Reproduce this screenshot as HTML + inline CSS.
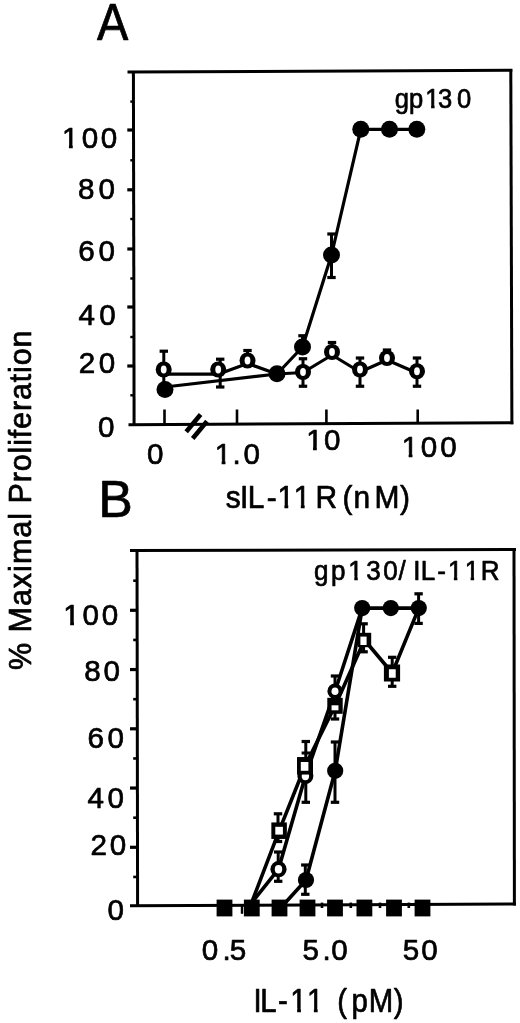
<!DOCTYPE html>
<html><head><meta charset="utf-8"><title>Figure</title>
<style>
html,body{margin:0;padding:0;background:#fff;}
svg{display:block;}
text{font-family:"Liberation Sans",sans-serif;fill:#000;stroke:#000;stroke-width:0.7px;stroke-linejoin:round;}
</style></head><body>
<svg width="520" height="1023" viewBox="0 0 520 1023" stroke="#000" fill="none">
<rect x="0" y="0" width="520" height="1023" fill="#fff" stroke="none"/>
<text transform="scale(0.9,1)" x="107.87" y="39.70" font-size="52.2">A</text>
<text x="98.22" y="517.20" font-size="51.8">B</text>
<g transform="rotate(-90)">
<text x="-669.89 -654.64 -632.50 -606.10 -588.13 -571.88 -564.11 -537.70 -519.74 -504.49 -503.50 -482.31 -471.30 -453.48 -445.85 -438.22 -428.89 -411.08 -400.07 -382.25 -372.93 -365.30 -347.48" y="30.90" font-size="30.5">% Maximal Proliferation</text>
</g>
<line x1="127.5" y1="72.1" x2="512.3" y2="70.2" stroke-width="3" stroke-linecap="butt"/>
<line x1="133.4" y1="71" x2="134.1" y2="426" stroke-width="3" stroke-linecap="butt"/>
<line x1="128.5" y1="424.7" x2="513.3" y2="422.8" stroke-width="3" stroke-linecap="butt"/>
<line x1="510.8" y1="69" x2="511.9" y2="424.3" stroke-width="3" stroke-linecap="butt"/>
<line x1="127.3" y1="130" x2="134" y2="130" stroke-width="3.2" stroke-linecap="butt"/>
<line x1="127.3" y1="189.8" x2="134" y2="189.8" stroke-width="3.2" stroke-linecap="butt"/>
<line x1="127.3" y1="249" x2="134" y2="249" stroke-width="3.2" stroke-linecap="butt"/>
<line x1="127.3" y1="307" x2="134" y2="307" stroke-width="3.2" stroke-linecap="butt"/>
<line x1="127.3" y1="366" x2="134" y2="366" stroke-width="3.2" stroke-linecap="butt"/>
<line x1="130.3" y1="101.6" x2="134" y2="101.6" stroke-width="2.4" stroke-linecap="butt"/>
<line x1="130.3" y1="160.3" x2="134" y2="160.3" stroke-width="2.4" stroke-linecap="butt"/>
<line x1="130.3" y1="219" x2="134" y2="219" stroke-width="2.4" stroke-linecap="butt"/>
<line x1="130.3" y1="278.5" x2="134" y2="278.5" stroke-width="2.4" stroke-linecap="butt"/>
<line x1="130.3" y1="337" x2="134" y2="337" stroke-width="2.4" stroke-linecap="butt"/>
<line x1="130.3" y1="395.3" x2="134" y2="395.3" stroke-width="2.4" stroke-linecap="butt"/>
<line x1="164.5" y1="409.5" x2="164.5" y2="424" stroke-width="2.6" stroke-linecap="butt"/>
<line x1="237" y1="409.5" x2="237" y2="424" stroke-width="2.6" stroke-linecap="butt"/>
<line x1="326.4" y1="409.5" x2="326.4" y2="424" stroke-width="2.6" stroke-linecap="butt"/>
<line x1="417.7" y1="409.5" x2="417.7" y2="424" stroke-width="2.6" stroke-linecap="butt"/>
<line x1="186.2" y1="431.7" x2="200.6" y2="414.5" stroke-width="4.6" stroke-linecap="butt"/>
<line x1="192.7" y1="438.4" x2="207" y2="421.3" stroke-width="4.6" stroke-linecap="butt"/>
<text x="62.10 81.67 100.67" y="148.00" font-size="29.6">100</text>
<rect x="63.20" y="144.34" width="5.74" height="5.16" fill="#fff" stroke="none"/>
<rect x="72.76" y="144.34" width="5.51" height="5.16" fill="#fff" stroke="none"/>
<text x="77.97 98.47" y="199.20" font-size="29.6">80</text>
<text x="78.17 98.49" y="261.00" font-size="29.6">60</text>
<text x="78.49 99.27" y="325.00" font-size="29.6">40</text>
<text x="78.77 98.64" y="373.20" font-size="29.6">20</text>
<text x="98.02" y="437.00" font-size="29.6">0</text>
<text x="147.07" y="463.50" font-size="29.6">0</text>
<text x="214.80 232.39 243.39" y="463.50" font-size="29.6">1.0</text>
<rect x="215.90" y="459.84" width="5.74" height="5.16" fill="#fff" stroke="none"/>
<rect x="225.46" y="459.84" width="5.51" height="5.16" fill="#fff" stroke="none"/>
<text x="306.15 324.02" y="450.30" font-size="29.6">10</text>
<rect x="307.25" y="446.64" width="5.74" height="5.16" fill="#fff" stroke="none"/>
<rect x="316.81" y="446.64" width="5.51" height="5.16" fill="#fff" stroke="none"/>
<text x="401.80 420.72 440.17" y="456.80" font-size="29.6">100</text>
<rect x="402.90" y="453.14" width="5.74" height="5.16" fill="#fff" stroke="none"/>
<rect x="412.46" y="453.14" width="5.51" height="5.16" fill="#fff" stroke="none"/>
<text transform="scale(0.95,1)" x="237.62 252.73 260.89 280.76 292.08 309.34 326.86 332.17 354.92 360.61 372.22 394.20 421.17" y="508.30" font-size="31.5">sIL-11 R (nM)</text>
<rect x="278.61" y="504.50" width="5.80" height="5.30" fill="#fff" stroke="none"/>
<rect x="288.25" y="504.50" width="5.56" height="5.30" fill="#fff" stroke="none"/>
<rect x="295.01" y="504.50" width="5.80" height="5.30" fill="#fff" stroke="none"/>
<rect x="304.65" y="504.50" width="5.56" height="5.30" fill="#fff" stroke="none"/>
<text transform="scale(0.92,1)" x="429.16 444.67 462.25 476.10 496.78" y="108.20" font-size="27.8">gp130</text>
<rect x="426.07" y="104.67" width="5.03" height="5.03" fill="#fff" stroke="none"/>
<rect x="434.57" y="104.67" width="4.83" height="5.03" fill="#fff" stroke="none"/>
<polyline points="165,387 277,374 302.5,347 331.5,255 360.8,129.3 389.5,129.3 416.8,129.3" stroke-width="3.2" fill="none" stroke-linejoin="round"/>
<polyline points="163.7,374.2 218.2,374.2 247.5,363.5 277,374 303,372.5 332,355 360,372 387,360 417,373" stroke-width="3.2" fill="none" stroke-linejoin="round"/>
<line x1="163.8" y1="351.2" x2="163.8" y2="388" stroke-width="3.0" stroke-linecap="butt"/>
<line x1="159.60000000000002" y1="351.2" x2="168.0" y2="351.2" stroke-width="3.2" stroke-linecap="butt"/>
<line x1="159.60000000000002" y1="388" x2="168.0" y2="388" stroke-width="3.2" stroke-linecap="butt"/>
<line x1="220.2" y1="359.2" x2="220.2" y2="387" stroke-width="3.0" stroke-linecap="butt"/>
<line x1="216.0" y1="359.2" x2="224.39999999999998" y2="359.2" stroke-width="3.2" stroke-linecap="butt"/>
<line x1="216.0" y1="387" x2="224.39999999999998" y2="387" stroke-width="3.2" stroke-linecap="butt"/>
<line x1="247.5" y1="350.5" x2="247.5" y2="358" stroke-width="3.0" stroke-linecap="butt"/>
<line x1="243.3" y1="350.5" x2="251.7" y2="350.5" stroke-width="3.2" stroke-linecap="butt"/>
<line x1="302.5" y1="335.75" x2="302.5" y2="346" stroke-width="3.0" stroke-linecap="butt"/>
<line x1="298.3" y1="335.75" x2="306.7" y2="335.75" stroke-width="3.2" stroke-linecap="butt"/>
<line x1="303" y1="358.75" x2="303" y2="386.25" stroke-width="3.0" stroke-linecap="butt"/>
<line x1="298.8" y1="358.75" x2="307.2" y2="358.75" stroke-width="3.2" stroke-linecap="butt"/>
<line x1="298.8" y1="386.25" x2="307.2" y2="386.25" stroke-width="3.2" stroke-linecap="butt"/>
<line x1="332" y1="342.5" x2="332" y2="350" stroke-width="3.0" stroke-linecap="butt"/>
<line x1="327.8" y1="342.5" x2="336.2" y2="342.5" stroke-width="3.2" stroke-linecap="butt"/>
<line x1="360" y1="358" x2="360" y2="386.25" stroke-width="3.0" stroke-linecap="butt"/>
<line x1="355.8" y1="358" x2="364.2" y2="358" stroke-width="3.2" stroke-linecap="butt"/>
<line x1="355.8" y1="386.25" x2="364.2" y2="386.25" stroke-width="3.2" stroke-linecap="butt"/>
<line x1="387" y1="350" x2="387" y2="356" stroke-width="3.0" stroke-linecap="butt"/>
<line x1="382.8" y1="350" x2="391.2" y2="350" stroke-width="3.2" stroke-linecap="butt"/>
<line x1="417" y1="358" x2="417" y2="386.25" stroke-width="3.0" stroke-linecap="butt"/>
<line x1="412.8" y1="358" x2="421.2" y2="358" stroke-width="3.2" stroke-linecap="butt"/>
<line x1="412.8" y1="386.25" x2="421.2" y2="386.25" stroke-width="3.2" stroke-linecap="butt"/>
<line x1="331.5" y1="234" x2="331.5" y2="277.5" stroke-width="3.0" stroke-linecap="butt"/>
<line x1="327.3" y1="234" x2="335.7" y2="234" stroke-width="3.2" stroke-linecap="butt"/>
<line x1="327.3" y1="277.5" x2="335.7" y2="277.5" stroke-width="3.2" stroke-linecap="butt"/>
<circle cx="163.7" cy="369.5" r="8.0" fill="#000" stroke="none"/>
<ellipse cx="163.7" cy="369.5" rx="2.9" ry="3.9" fill="#fff" stroke="none"/>
<circle cx="218.2" cy="369.5" r="8.0" fill="#000" stroke="none"/>
<ellipse cx="218.2" cy="369.5" rx="2.9" ry="3.9" fill="#fff" stroke="none"/>
<circle cx="247.5" cy="360.5" r="8.0" fill="#000" stroke="none"/>
<ellipse cx="247.5" cy="360.5" rx="2.9" ry="3.9" fill="#fff" stroke="none"/>
<circle cx="303" cy="372" r="8.0" fill="#000" stroke="none"/>
<ellipse cx="303" cy="372" rx="2.9" ry="3.9" fill="#fff" stroke="none"/>
<circle cx="332" cy="352" r="8.0" fill="#000" stroke="none"/>
<ellipse cx="332" cy="352" rx="2.9" ry="3.9" fill="#fff" stroke="none"/>
<circle cx="360" cy="369.5" r="8.0" fill="#000" stroke="none"/>
<ellipse cx="360" cy="369.5" rx="2.9" ry="3.9" fill="#fff" stroke="none"/>
<circle cx="387" cy="358" r="8.0" fill="#000" stroke="none"/>
<ellipse cx="387" cy="358" rx="2.9" ry="3.9" fill="#fff" stroke="none"/>
<circle cx="417" cy="371.25" r="8.0" fill="#000" stroke="none"/>
<ellipse cx="417" cy="371.25" rx="2.9" ry="3.9" fill="#fff" stroke="none"/>
<circle cx="165" cy="389.5" r="8.5" fill="#000" stroke="none"/>
<circle cx="277" cy="373.75" r="8.5" fill="#000" stroke="none"/>
<circle cx="302.5" cy="347" r="8.5" fill="#000" stroke="none"/>
<circle cx="331.5" cy="255" r="8.5" fill="#000" stroke="none"/>
<circle cx="360.8" cy="129.3" r="8.5" fill="#000" stroke="none"/>
<circle cx="389.5" cy="129.3" r="8.5" fill="#000" stroke="none"/>
<circle cx="416.8" cy="129.3" r="8.5" fill="#000" stroke="none"/>
<line x1="130" y1="550.5" x2="516" y2="549.4" stroke-width="3" stroke-linecap="butt"/>
<line x1="137" y1="549" x2="137.6" y2="907" stroke-width="3" stroke-linecap="butt"/>
<line x1="130" y1="905.8" x2="516" y2="904" stroke-width="3" stroke-linecap="butt"/>
<line x1="514" y1="548" x2="514.4" y2="905.5" stroke-width="3" stroke-linecap="butt"/>
<line x1="130" y1="610.3" x2="137.5" y2="610.3" stroke-width="3.2" stroke-linecap="butt"/>
<line x1="130" y1="669.55" x2="137.5" y2="669.55" stroke-width="3.2" stroke-linecap="butt"/>
<line x1="130" y1="728.8" x2="137.5" y2="728.8" stroke-width="3.2" stroke-linecap="butt"/>
<line x1="130" y1="788.05" x2="137.5" y2="788.05" stroke-width="3.2" stroke-linecap="butt"/>
<line x1="130" y1="847.3" x2="137.5" y2="847.3" stroke-width="3.2" stroke-linecap="butt"/>
<line x1="133.2" y1="580.7" x2="137.5" y2="580.7" stroke-width="2.6" stroke-linecap="butt"/>
<line x1="133.2" y1="639.95" x2="137.5" y2="639.95" stroke-width="2.6" stroke-linecap="butt"/>
<line x1="133.2" y1="699.2" x2="137.5" y2="699.2" stroke-width="2.6" stroke-linecap="butt"/>
<line x1="133.2" y1="758.45" x2="137.5" y2="758.45" stroke-width="2.6" stroke-linecap="butt"/>
<line x1="133.2" y1="817.7" x2="137.5" y2="817.7" stroke-width="2.6" stroke-linecap="butt"/>
<line x1="133.2" y1="876.95" x2="137.5" y2="876.95" stroke-width="2.6" stroke-linecap="butt"/>
<text x="63.30 82.52 101.87" y="625.00" font-size="29.6">100</text>
<rect x="64.40" y="621.34" width="5.74" height="5.16" fill="#fff" stroke="none"/>
<rect x="73.96" y="621.34" width="5.51" height="5.16" fill="#fff" stroke="none"/>
<text x="84.27 103.39" y="681.00" font-size="29.6">80</text>
<text x="87.42 107.42" y="748.00" font-size="29.6">60</text>
<text x="87.61 107.62" y="807.70" font-size="29.6">40</text>
<text x="90.62 109.87" y="855.20" font-size="29.6">20</text>
<text x="107.42" y="920.00" font-size="29.6">0</text>
<text x="201.77 222.39 229.67" y="959.50" font-size="29.6">0.5</text>
<text x="302.55 322.39 331.14" y="959.50" font-size="29.6">5.0</text>
<text x="402.80 421.27" y="959.50" font-size="29.6">50</text>
<text transform="scale(0.9,1)" x="281.75 289.25 308.79 322.61 341.23 359.36 374.71 390.57 409.64 437.49" y="1011.80" font-size="32.6">IL-11 (pM)</text>
<rect x="291.44" y="1007.91" width="5.69" height="5.39" fill="#fff" stroke="none"/>
<rect x="300.92" y="1007.91" width="5.46" height="5.39" fill="#fff" stroke="none"/>
<rect x="308.19" y="1007.91" width="5.69" height="5.39" fill="#fff" stroke="none"/>
<rect x="317.67" y="1007.91" width="5.46" height="5.39" fill="#fff" stroke="none"/>
<text transform="scale(0.95,1)" x="330.58 348.39 366.66 385.62 403.30 419.46 427.07 435.04 442.92 460.23 471.50 489.13 506.09" y="579.60" font-size="27.4">gp130/ IL-11R</text>
<rect x="349.16" y="576.10" width="5.11" height="5.00" fill="#fff" stroke="none"/>
<rect x="357.77" y="576.10" width="4.91" height="5.00" fill="#fff" stroke="none"/>
<rect x="448.76" y="576.10" width="5.11" height="5.00" fill="#fff" stroke="none"/>
<rect x="457.37" y="576.10" width="4.91" height="5.00" fill="#fff" stroke="none"/>
<rect x="465.51" y="576.10" width="5.11" height="5.00" fill="#fff" stroke="none"/>
<rect x="474.12" y="576.10" width="4.91" height="5.00" fill="#fff" stroke="none"/>
<polyline points="286,902 306,880 335.2,770.8 362.2,608.1 390.8,608.1 418.8,608.1" stroke-width="3.6" fill="none" stroke-linejoin="round"/>
<polyline points="251.5,903 278.5,869.2 305.4,776 335,691.5 362.2,608.1" stroke-width="3.6" fill="none" stroke-linejoin="round"/>
<polyline points="251.5,903 279.2,830.7 305,766 335,706 364.5,640 392.2,673 418.8,608.1" stroke-width="3.6" fill="none" stroke-linejoin="round"/>
<line x1="418.6" y1="593.8" x2="418.6" y2="623.4" stroke-width="3.0" stroke-linecap="butt"/>
<line x1="414.40000000000003" y1="593.8" x2="422.8" y2="593.8" stroke-width="3.2" stroke-linecap="butt"/>
<line x1="414.40000000000003" y1="623.4" x2="422.8" y2="623.4" stroke-width="3.2" stroke-linecap="butt"/>
<line x1="363.6" y1="623.8" x2="363.6" y2="651.8" stroke-width="3.0" stroke-linecap="butt"/>
<line x1="359.40000000000003" y1="623.8" x2="367.8" y2="623.8" stroke-width="3.2" stroke-linecap="butt"/>
<line x1="359.40000000000003" y1="651.8" x2="367.8" y2="651.8" stroke-width="3.2" stroke-linecap="butt"/>
<line x1="392.2" y1="657.3" x2="392.2" y2="686.3" stroke-width="3.0" stroke-linecap="butt"/>
<line x1="388.0" y1="657.3" x2="396.4" y2="657.3" stroke-width="3.2" stroke-linecap="butt"/>
<line x1="388.0" y1="686.3" x2="396.4" y2="686.3" stroke-width="3.2" stroke-linecap="butt"/>
<line x1="335" y1="676" x2="335" y2="719" stroke-width="3.0" stroke-linecap="butt"/>
<line x1="330.8" y1="676" x2="339.2" y2="676" stroke-width="3.2" stroke-linecap="butt"/>
<line x1="330.8" y1="719" x2="339.2" y2="719" stroke-width="3.2" stroke-linecap="butt"/>
<line x1="330.8" y1="703" x2="339.2" y2="703" stroke-width="3" stroke-linecap="butt"/>
<line x1="305.8" y1="741.5" x2="305.8" y2="802.3" stroke-width="3.0" stroke-linecap="butt"/>
<line x1="301.6" y1="741.5" x2="310.0" y2="741.5" stroke-width="3.2" stroke-linecap="butt"/>
<line x1="301.6" y1="802.3" x2="310.0" y2="802.3" stroke-width="3.2" stroke-linecap="butt"/>
<line x1="301.6" y1="753" x2="310" y2="753" stroke-width="3" stroke-linecap="butt"/>
<line x1="335" y1="742" x2="335" y2="802.3" stroke-width="3.0" stroke-linecap="butt"/>
<line x1="330.8" y1="742" x2="339.2" y2="742" stroke-width="3.2" stroke-linecap="butt"/>
<line x1="330.8" y1="802.3" x2="339.2" y2="802.3" stroke-width="3.2" stroke-linecap="butt"/>
<line x1="278" y1="813.8" x2="278" y2="841.5" stroke-width="3.0" stroke-linecap="butt"/>
<line x1="273.8" y1="813.8" x2="282.2" y2="813.8" stroke-width="3.2" stroke-linecap="butt"/>
<line x1="273.8" y1="841.5" x2="282.2" y2="841.5" stroke-width="3.2" stroke-linecap="butt"/>
<line x1="278.2" y1="852" x2="278.2" y2="881.3" stroke-width="3.0" stroke-linecap="butt"/>
<line x1="274.0" y1="852" x2="282.4" y2="852" stroke-width="3.2" stroke-linecap="butt"/>
<line x1="274.0" y1="881.3" x2="282.4" y2="881.3" stroke-width="3.2" stroke-linecap="butt"/>
<line x1="305.3" y1="865" x2="305.3" y2="894.3" stroke-width="3.0" stroke-linecap="butt"/>
<line x1="301.1" y1="865" x2="309.5" y2="865" stroke-width="3.2" stroke-linecap="butt"/>
<line x1="301.1" y1="894.3" x2="309.5" y2="894.3" stroke-width="3.2" stroke-linecap="butt"/>
<circle cx="278.5" cy="869.2" r="8.1" fill="#000" stroke="none"/>
<ellipse cx="278.5" cy="869.2" rx="3.7" ry="4.2" fill="#fff" stroke="none"/>
<circle cx="305.4" cy="776" r="8.0" fill="#000" stroke="none"/>
<ellipse cx="305.4" cy="776" rx="3.7" ry="4.2" fill="#fff" stroke="none"/>
<circle cx="335" cy="691.2" r="7.6" fill="#000" stroke="none"/>
<ellipse cx="335" cy="691.2" rx="3.5" ry="3.8" fill="#fff" stroke="none"/>
<rect x="271.35" y="822.45" width="15.5" height="16.5" fill="#000" stroke="none"/>
<rect x="275.30" y="826.80" width="7.6" height="7.8" fill="#fff" stroke="none"/>
<rect x="297.00" y="757.05" width="16" height="17.5" fill="#000" stroke="none"/>
<rect x="300.80" y="762.00" width="7.6" height="8.8" fill="#fff" stroke="none"/>
<rect x="327.30" y="697.80" width="15.4" height="16" fill="#000" stroke="none"/>
<rect x="331.55" y="705.30" width="6.9" height="5" fill="#fff" stroke="none"/>
<rect x="357.80" y="632.80" width="13.4" height="14.4" fill="#000" stroke="none"/>
<rect x="360.40" y="636.60" width="6.2" height="8.4" fill="#fff" stroke="none"/>
<rect x="383.90" y="664.50" width="16.2" height="17" fill="#000" stroke="none"/>
<rect x="388.90" y="669.25" width="6.8" height="8.5" fill="#fff" stroke="none"/>
<circle cx="306" cy="880" r="8.1" fill="#000" stroke="none"/>
<circle cx="335.2" cy="770.8" r="8.1" fill="#000" stroke="none"/>
<circle cx="362.2" cy="608.1" r="8.1" fill="#000" stroke="none"/>
<circle cx="390.8" cy="608.1" r="8.1" fill="#000" stroke="none"/>
<circle cx="418.8" cy="608.1" r="8.1" fill="#000" stroke="none"/>
<rect x="216.6" y="899.6" width="15.8" height="16.8" fill="#000" stroke="none"/>
<rect x="243.9" y="899.6" width="15.8" height="16.8" fill="#000" stroke="none"/>
<rect x="271.6" y="899.6" width="15.8" height="16.8" fill="#000" stroke="none"/>
<rect x="299.6" y="899.6" width="15.8" height="16.8" fill="#000" stroke="none"/>
<rect x="327.1" y="899.6" width="15.8" height="16.8" fill="#000" stroke="none"/>
<rect x="356.5" y="899.6" width="15.8" height="16.8" fill="#000" stroke="none"/>
<rect x="386.1" y="899.6" width="15.8" height="16.8" fill="#000" stroke="none"/>
<rect x="414.6" y="899.6" width="15.8" height="16.8" fill="#000" stroke="none"/>
<rect x="320.7" y="902.5999999999999" width="2.6" height="5.4" fill="#000" stroke="none"/>
<rect x="349.5" y="902.5999999999999" width="2.6" height="5.4" fill="#000" stroke="none"/>
<rect x="378.7" y="902.5999999999999" width="2.6" height="5.4" fill="#000" stroke="none"/>
<rect x="407.5" y="902.5999999999999" width="2.6" height="5.4" fill="#000" stroke="none"/>
<line x1="242" y1="905" x2="242" y2="913.8" stroke-width="2.4" stroke-linecap="butt"/>
</svg>
</body></html>
